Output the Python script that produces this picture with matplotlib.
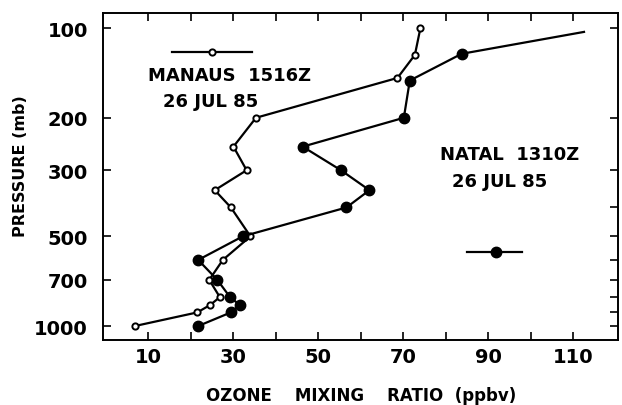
import numpy as np
import matplotlib
matplotlib.use("Agg")
import matplotlib.pyplot as plt

# Manaus 1516Z, 26 Jul 85 (open circles)
manaus_o3 = [74.0, 72.7, 68.6, 35.3, 30.0, 33.1, 25.6, 29.4, 34.0, 27.5, 24.3, 26.8, 24.5, 21.5, 6.8]
manaus_p = [100, 123, 147, 200, 250, 300, 350, 400, 500, 600, 700, 800, 850, 900, 1000]

# Natal 1310Z, 26 Jul 85 (filled circles); first point is the line end, no marker
natal_o3 = [112.5, 83.7, 71.5, 70.1, 46.3, 55.3, 62.0, 56.6, 32.2, 21.7, 26.2, 29.2, 31.5, 29.4, 21.7]
natal_p = [103, 122, 150, 200, 250, 300, 350, 400, 500, 600, 700, 800, 850, 900, 1000]

p_ticks = [100, 200, 300, 500, 700, 1000]
p_minor = [400, 600, 800, 900]
x_ticks = [10, 30, 50, 70, 90, 110]

plt.rcParams["font.weight"] = "bold"
plt.rcParams["axes.labelweight"] = "bold"

fig = plt.figure(figsize=(6.22, 4.06), dpi=100)
ax = fig.add_axes([103 / 622, 1 - 341 / 406, 515 / 622, 327 / 406])

ax.plot(manaus_o3, manaus_p, "k-", lw=1.6, marker="o", ms=4.5,
        mfc="white", mec="k", mew=1.4)
ax.plot(natal_o3, natal_p, "k-", lw=1.6, marker="o", ms=7.5,
        mfc="k", mec="k", markevery=list(range(1, len(natal_p))))

ax.set_yscale("log")
ax.set_ylim(1114, 89)
ax.set_xlim(-0.7, 120.5)
ax.set_yticks(p_ticks)
ax.set_yticks(p_minor, minor=True)
ax.set_yticklabels([str(p) for p in p_ticks], fontsize=14)
ax.set_yticklabels([], minor=True)
ax.set_xticks(np.arange(10, 111, 10), minor=True)
ax.set_xticks(x_ticks)
ax.set_xticklabels([str(x) for x in x_ticks], fontsize=14)

ax.tick_params(axis="both", which="both", direction="in", length=6, width=1.2,
               top=True, right=True)
ax.tick_params(axis="y", which="minor", left=False)
ax.tick_params(axis="x", which="major", pad=5)
ax.tick_params(axis="y", which="major", pad=11)
for s in ax.spines.values():
    s.set_linewidth(1.4)

ax.set_xlabel("OZONE    MIXING    RATIO  (ppbv)", fontsize=12)
ax.set_ylabel("PRESSURE (mb)", fontsize=11.5)
ax.xaxis.set_label_coords(0.502, -0.142)
ax.yaxis.set_label_coords(-0.146, 0.534)

# legend-like annotations
y_m = 100 * 10 ** (24 / 298)
ax.plot([15.5, 34.3], [y_m, y_m], "k-", lw=1.6)
ax.plot([24.9], [y_m], "o", ms=4.5, mfc="white", mec="k", mew=1.4)
ax.text(0.087, 0.81, "MANAUS  1516Z", transform=ax.transAxes, fontsize=13,
        va="center", ha="left")
ax.text(0.117, 0.73, "26 JUL 85", transform=ax.transAxes, fontsize=13,
        va="center", ha="left")

y_n = 100 * 10 ** (224 / 298)
ax.plot([85, 97.9], [y_n, y_n], "k-", lw=1.6)
ax.plot([91.8], [y_n], "o", ms=7.5, mfc="k", mec="k")
ax.text(0.655, 0.57, "NATAL  1310Z", transform=ax.transAxes, fontsize=13,
        va="center", ha="left")
ax.text(0.677, 0.485, "26 JUL 85", transform=ax.transAxes, fontsize=13,
        va="center", ha="left")

fig.savefig("out.png", dpi=100)
